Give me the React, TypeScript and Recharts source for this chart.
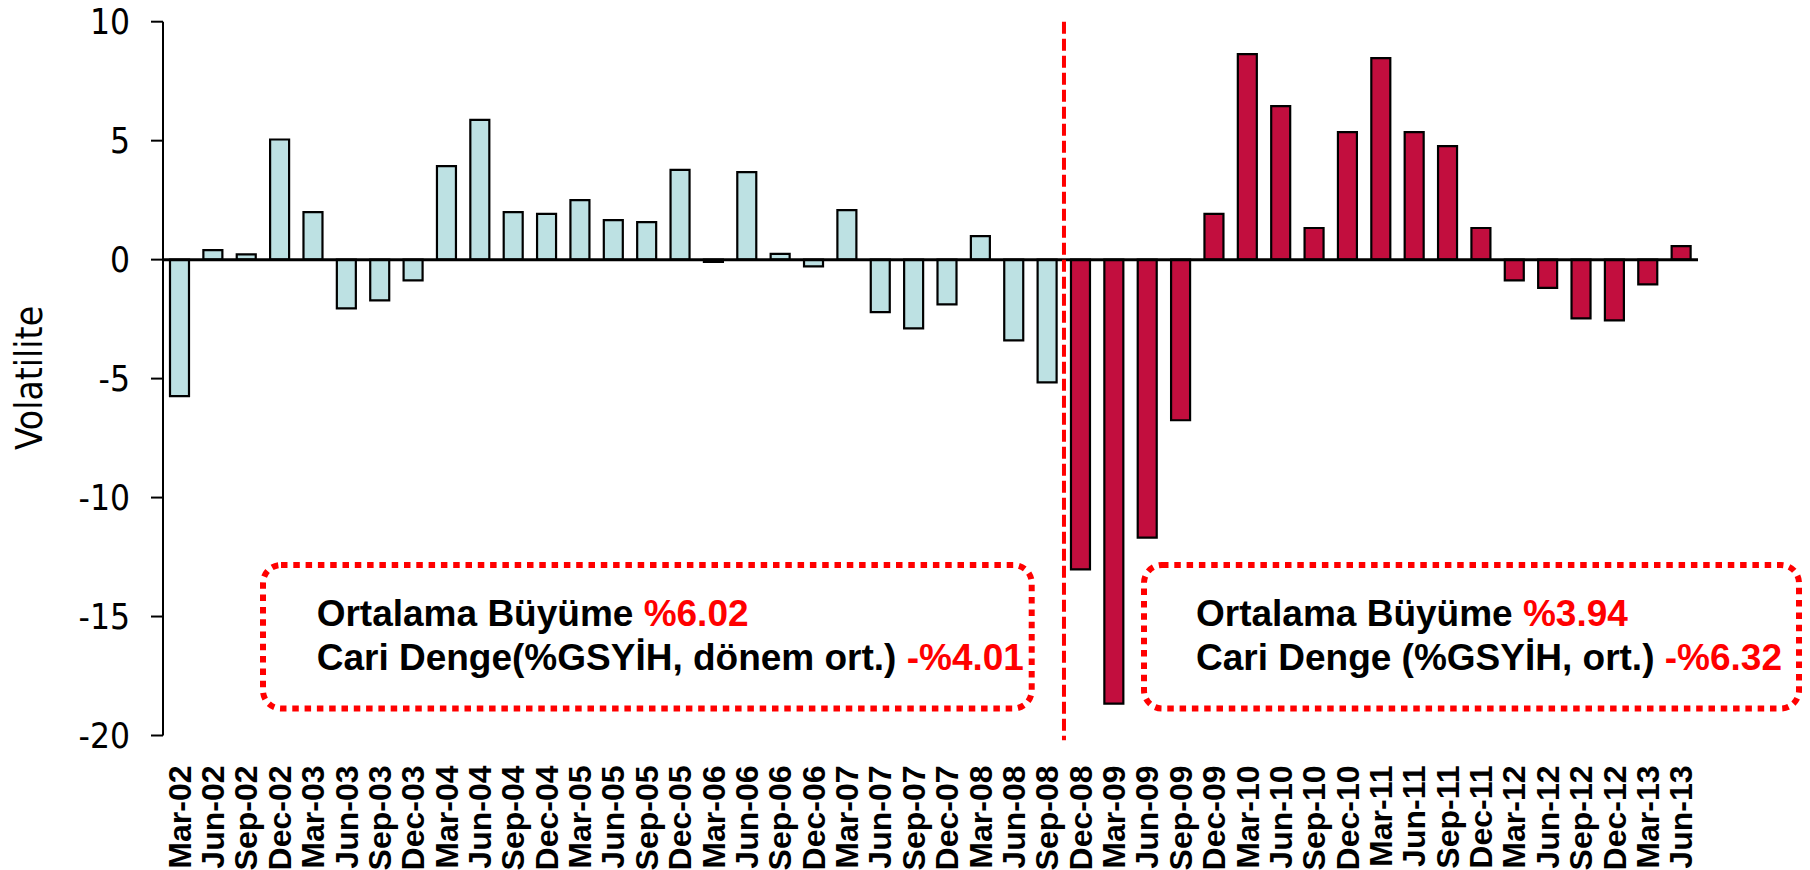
import React from 'react';
import { BarChart, Bar, XAxis, YAxis, ReferenceLine, Cell } from 'recharts';

const categories = [
  'Mar-02', 'Jun-02', 'Sep-02', 'Dec-02', 'Mar-03', 'Jun-03', 'Sep-03', 'Dec-03',
  'Mar-04', 'Jun-04', 'Sep-04', 'Dec-04', 'Mar-05', 'Jun-05', 'Sep-05', 'Dec-05',
  'Mar-06', 'Jun-06', 'Sep-06', 'Dec-06', 'Mar-07', 'Jun-07', 'Sep-07', 'Dec-07',
  'Mar-08', 'Jun-08', 'Sep-08', 'Dec-08', 'Mar-09', 'Jun-09', 'Sep-09', 'Dec-09',
  'Mar-10', 'Jun-10', 'Sep-10', 'Dec-10', 'Mar-11', 'Jun-11', 'Sep-11', 'Dec-11',
  'Mar-12', 'Jun-12', 'Sep-12', 'Dec-12', 'Mar-13', 'Jun-13',
];

// Before the crisis (Mar-02 .. Sep-08)
const preCrisisValues = [
  -5.74, 0.4, 0.22, 5.05, 2.0, -2.05, -1.71, -0.87,
  3.93, 5.87, 2.0, 1.92, 2.5, 1.66, 1.58, 3.77,
  -0.1, 3.68, 0.24, -0.28, 2.08, -2.21, -2.89, -1.88,
  0.99, -3.39, -5.16,
];

// From Dec-08 to Jun-13
const postCrisisValues = [
  -13.02, -18.66, -11.68, -6.75, 1.92,
  8.64, 6.45, 1.33, 5.36, 8.47, 5.36, 4.77, 1.33,
  -0.87, -1.19, -2.47, -2.55, -1.04, 0.57,
];

const yTicks = [-20, -15, -10, -5, 0, 5, 10];
const splitIndex = preCrisisValues.length; // first post-crisis category
const splitCategory = categories[splitIndex]; // 'Dec-08'

const leftBox = { title: 'Ortalama Büyüme ', growth: '%6.02', line2: 'Cari Denge(%GSYİH, dönem ort.) ', balance: '-%4.01' };
const rightBox = { title: 'Ortalama Büyüme ', growth: '%3.94', line2: 'Cari Denge (%GSYİH, ort.) ', balance: '-%6.32' };

const allValues = [...preCrisisValues, ...postCrisisValues];
const data = categories.map((c, i) => ({ name: c, value: allValues[i], post: i >= splitIndex }));

const PRE_COLOR = '#BDE1E3';
const POST_COLOR = '#C20E3E';
const RED = '#FF0000';

const XTick = (props: any) => {
  const { x, y, payload } = props;
  return (
    <text
      x={x}
      y={y}
      transform={`rotate(-90 ${x} ${y})`}
      textAnchor="end"
      dominantBaseline="central"
      fontFamily="'Liberation Sans', Arial, sans-serif"
      fontWeight="bold"
      fontSize={32}
      fill="#000"
    >
      {payload.value}
    </text>
  );
};

const tickFont = "'DejaVu Sans Condensed', 'DejaVu Sans', sans-serif";

const boxTextStyle: React.CSSProperties = {
  fontFamily: "'Liberation Sans', Arial, sans-serif",
  fontWeight: 'bold',
  fontSize: 37,
};

export default function App() {
  return (
    <div style={{ position: 'absolute', left: 0, top: 0, width: 1810, height: 870, background: '#fff' }}>
      <BarChart
        width={1810}
        height={870}
        data={data}
        margin={{ top: 21.7, right: 112, bottom: 0, left: 0 }}
        barSize={19}
      >
        <XAxis
          dataKey="name"
          interval={0}
          axisLine={false}
          tickLine={false}
          tickSize={0}
          tickMargin={30}
          height={134.5}
          tick={<XTick />}
        />
        <YAxis
          domain={[-20, 10]}
          ticks={yTicks}
          width={163}
          tickSize={12}
          tickMargin={21}
          axisLine={{ stroke: '#000', strokeWidth: 2 }}
          tickLine={{ stroke: '#000', strokeWidth: 2 }}
          tick={{ fill: '#000', fontSize: 35, fontFamily: tickFont, style: { fontStretch: 'condensed' } }}
          allowDataOverflow
        />
        <Bar dataKey="value" stroke="#000" strokeWidth={2.2} isAnimationActive={false}>
          {data.map((d, i) => (
            <Cell key={i} fill={d.post ? POST_COLOR : PRE_COLOR} />
          ))}
        </Bar>
        <ReferenceLine y={0} stroke="#000" strokeWidth={3} />
        <ReferenceLine
          segment={[{ x: splitCategory, y: 10 }, { x: splitCategory, y: -20.2 }]}
          position="start"
          stroke={RED}
          strokeWidth={4}
          strokeDasharray="12 5"
          ifOverflow="visible"
        />
      </BarChart>
      <svg width={1810} height={870} style={{ position: 'absolute', left: 0, top: 0, pointerEvents: 'none' }}>
        <text
          x={41.7}
          y={378}
          transform="rotate(-90 41.7 378)"
          textAnchor="middle"
          fontFamily={tickFont}
          fontSize={37}
          style={{ fontStretch: 'condensed' }}
          fill="#000"
        >
          Volatilite
        </text>
        <rect x={263} y={565} width={768.7} height={143.5} rx={18} fill="none" stroke={RED} strokeWidth={6} strokeDasharray="6.5 5.8" />
        <rect x={1144} y={565} width={655} height={143.5} rx={18} fill="none" stroke={RED} strokeWidth={6} strokeDasharray="6.5 5.8" />
        <text x={316.7} y={626} style={boxTextStyle}>
          <tspan fill="#000">{leftBox.title}</tspan>
          <tspan fill={RED}>{leftBox.growth}</tspan>
        </text>
        <text x={316.7} y={670} style={boxTextStyle}>
          <tspan fill="#000">{leftBox.line2}</tspan>
          <tspan fill={RED}>{leftBox.balance}</tspan>
        </text>
        <text x={1196} y={626} style={boxTextStyle}>
          <tspan fill="#000">{rightBox.title}</tspan>
          <tspan fill={RED}>{rightBox.growth}</tspan>
        </text>
        <text x={1196} y={670} style={boxTextStyle}>
          <tspan fill="#000">{rightBox.line2}</tspan>
          <tspan fill={RED}>{rightBox.balance}</tspan>
        </text>
      </svg>
    </div>
  );
}
